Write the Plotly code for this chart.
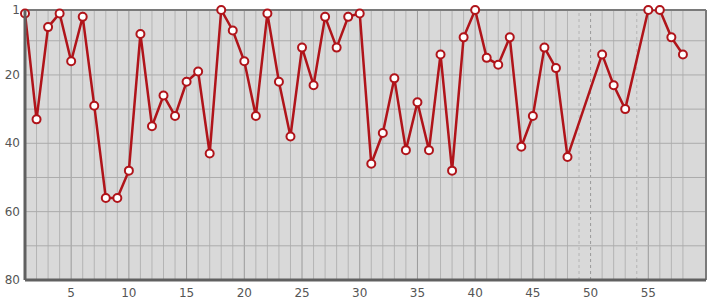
import plotly.graph_objects as go

# Data
x_vals = list(range(1, 59))
ranks = [2, 33, 6, 2, 16, 3, 29, 56, 56, 48,
         8, 35, 26, 32, 22, 19, 43, 1, 7, 16,
         32, 2, 22, 38, 12, 23, 3, 12, 3, 2,
         46, 37, 21, 42, 28, 42, 14, 48, 9, 1,
         15, 17, 9, 41, 32, 12, 18, 44, None, None,
         14, 23, 30, None, 1, 1, 9, 14]
x_tick_vals = [5, 10, 15, 20, 25, 30, 35, 40, 45, 50, 55]
y_tick_vals = [1, 20, 40, 60, 80]
y_grid_vals = [10, 20, 30, 40, 50, 60, 70]

LINE_RED = "#b0141a"

fig = go.Figure()

fig.add_trace(go.Scatter(
    x=x_vals, y=ranks, mode="lines+markers", connectgaps=True,
    line=dict(color=LINE_RED, width=2.5),
    marker=dict(symbol="circle", size=8, color="white",
                line=dict(color=LINE_RED, width=2)),
    hoverinfo="x+y", showlegend=False, cliponaxis=False,
))

shapes = []
# vertical gridlines at each data position
for xv, rv in zip(x_vals, ranks):
    major = (xv % 5 == 0)
    missing = rv is None
    shapes.append(dict(
        type="line", xref="x", yref="paper", x0=xv, x1=xv, y0=0, y1=1,
        layer="below",
        line=dict(color="#9a9a9a" if major else "#b4b4b4",
                  width=1, dash="3px,3px" if missing else "solid"),
    ))
# horizontal gridlines
for yv in y_grid_vals:
    shapes.append(dict(
        type="line", xref="paper", yref="y", x0=0, x1=1, y0=yv, y1=yv,
        layer="below", line=dict(color="#ababab", width=1),
    ))
# frame: top and right thinner
shapes.append(dict(type="line", xref="paper", yref="paper", x0=0, x1=1, y0=1, y1=1,
                   layer="below", line=dict(color="#7a7a7a", width=2)))
shapes.append(dict(type="line", xref="paper", yref="paper", x0=1, x1=1, y0=0, y1=1,
                   layer="below", line=dict(color="#7a7a7a", width=2)))
# left and bottom thicker
shapes.append(dict(type="line", xref="paper", yref="paper", x0=0, x1=1, y0=0, y1=0,
                   line=dict(color="#606060", width=3)))
shapes.append(dict(type="line", xref="paper", yref="paper", x0=0, x1=0, y0=0, y1=1,
                   line=dict(color="#606060", width=3)))

fig.update_layout(
    width=715, height=300,
    margin=dict(l=25, r=9, t=10, b=20, autoexpand=False),
    paper_bgcolor="white", plot_bgcolor="#d9d9d9",
    shapes=shapes,
    font=dict(family="DejaVu Sans, Verdana, sans-serif", size=12, color="#555555"),
    xaxis=dict(range=[1, 60], tickvals=x_tick_vals, showgrid=False,
               zeroline=False, showline=False, ticks="", ticklen=0,
               automargin=False, ticklabelstandoff=4,
               tickfont=dict(size=12, color="#555555")),
    yaxis=dict(range=[80, 1], tickvals=y_tick_vals, showgrid=False,
               zeroline=False, showline=False, ticks="", ticklen=0,
               automargin=False, ticklabelstandoff=4,
               tickfont=dict(size=12, color="#555555")),
)

fig.write_html("out.html")
